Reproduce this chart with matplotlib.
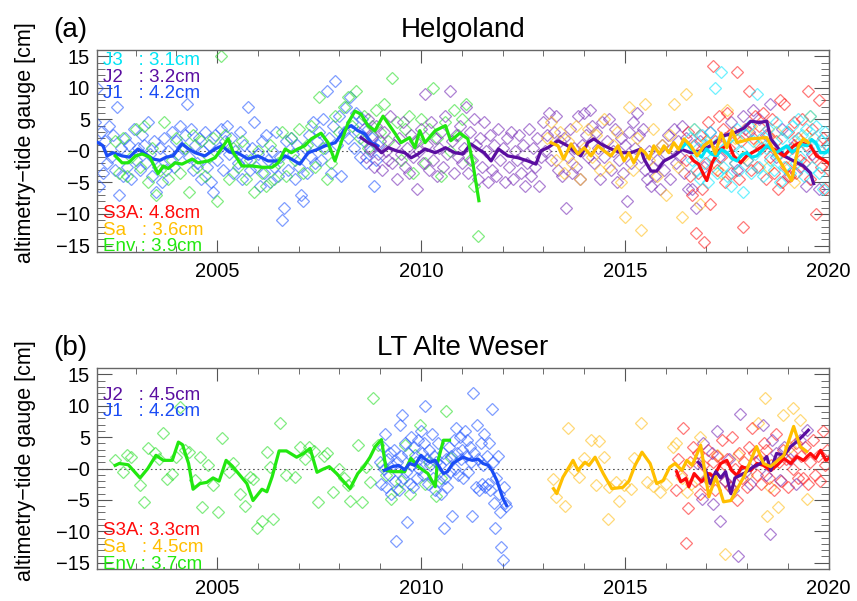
import numpy as np
import matplotlib
matplotlib.use("Agg")
import matplotlib.pyplot as plt

plt.rcParams['font.family'] = ['Liberation Sans', 'DejaVu Sans']

# ---------------- panel (a) Helgoland ----------------
# scatter series: start year, step (years), values [cm]
j1a_start, j1a_step = 2002.0, 0.05
j1a_vals = [4.5, 10.0, -5.5, 3.0, -3.5, 1.5, -2.0, 4.0, -1.0, 2.5, -3.0, 7.0, -7.0, 0.5, -4.0, 2.0,
            -2.5, 1.0, -4.5, 3.5, -1.5, 0.5, -3.0, 2.5, 1.0, -2.0, 4.5, -0.5, -4.0, 1.5, -6.5, -2.5,
            0.5, -5.0, 2.0, -3.0, 0.0, -1.5, 3.0, -2.5, 1.5, -0.5, 4.0, 0.5, 2.5, 7.5, -1.0, 3.5,
            -3.0, 1.0, -2.0, 2.0, -4.5, 0.0, 3.0, -2.5, 1.0, -5.0, -6.5, 2.5, -1.5, 0.5, 3.5, -3.0,
            1.5, 4.0, -0.5, 2.0, -3.5, 0.0, -2.0, 3.0, -4.5, 1.0, -1.5, 7.0, -3.0, 0.5, 4.5, -2.5,
            -0.5, -5.5, 1.5, -3.5, 2.5, -1.5, -5.0, 0.0, -2.5, 3.0, -4.0, -1.0, -11.0, -9.0, 1.5, -3.0,
            2.0, -0.5, -4.5, 1.0, -2.5, -7.0, -8.0, 0.5, -3.5, 2.5, -1.0, 4.5, -2.0, 1.5, 3.0, -1.5,
            5.0, 0.5, 9.5, 2.0, -3.5, 4.0, 11.0, 1.0, 5.5, -4.0, 3.0, 7.0, 2.0, 8.5, 4.5, 0.5,
            6.0, 3.0, -1.0, 5.0, 1.5, -2.0, 3.5, 0.0, 2.0, -5.5, -1.5, 1.0]

enva_start, enva_step = 2002.5, 0.1
enva_vals = [1.5, -3.5, 2.0, -4.0, -1.0, 3.5, -2.5, 4.0, -5.0, 0.5, -7.0, -3.0, 4.5, -4.5, -1.5, 2.0,
             -3.5, 0.5, -6.5, 2.5, -2.5, 1.5, -4.0, -1.0, 2.0, -8.0, 15.0, 2.5, -4.5, 0.5, -2.5, 1.5,
             -4.5, -1.5, -6.5, 0.0, -3.5, -5.5, 1.0, -4.5, -2.0, 3.0, -4.0, 2.0, -1.5, 3.5, -3.5, 1.0,
             4.0, -2.5, 8.5, 0.5, -4.5, -2.0, 5.5, 3.0, 7.0, 8.5, 4.0, 9.5, 2.0, 5.5, 0.5, 4.0,
             6.5, 3.0, 7.5, 1.5, 11.5, 4.5, -1.5, 3.5, 5.5, -3.5, 1.5, 5.0, -2.0, 3.5, 10.0, 2.0,
             -4.0, 4.5, 0.0, 6.5, 2.5, 5.0, 7.5, -1.5, -5.5, -13.5]

j2a_start, j2a_step = 2008.6, 0.05
j2a_vals = [3.5, -1.0, 5.0, 0.5, 2.5, -2.5, 4.0, -0.5, 1.5, -3.0, 3.0, 0.0, -1.5, 5.5, -2.0, 1.0,
            -4.5, 2.0, -0.5, 4.5, -2.5, 0.5, -3.5, 2.5, -1.0, 1.5, -6.0, 0.0, 3.5, -2.0, 9.0, 1.0,
            -3.0, 4.5, -1.5, 2.0, -4.0, 0.5, 3.0, -2.5, 5.5, -0.5, 9.5, 1.5, -3.5, 2.5, -1.0, 4.0,
            -2.0, 0.5, 7.0, -3.5, 3.0, -1.5, 5.0, 1.0, -4.5, 2.0, -2.5, 4.5, 0.0, -5.0, 2.5, -3.0,
            1.0, -4.0, 3.5, -1.5, 0.5, -5.0, 2.0, -2.5, 3.0, -4.5, 0.0, -1.5, 2.5, -3.5, 1.0, -5.5,
            -2.0, 3.5, -4.0, 0.5, -2.5, 2.0, -5.5, -1.0, 4.5, 0.0, 2.5, 6.0, -1.5, 3.0, 5.5, -3.0,
            1.5, -4.0, 2.0, -9.0, -1.0, 3.5, -3.5, 0.5, -2.5, 5.5, -4.5, 1.0, 6.0, 2.5, -1.0, 6.5,
            4.0, -2.0, 3.0, 0.5, -4.5, 4.5, -1.0, 1.5, 5.0, -3.0, 0.0, 3.5, -5.0, -1.5, 2.0, -3.5,
            1.0, -8.0, 3.0, -2.0, 4.5, 0.5, 6.0, 2.5, -1.0, 3.5, -3.0, -4.5, 0.0, -5.5, -2.5, -4.0,
            -1.5, -6.0, 1.0, -3.0, -0.5, 2.5, -4.5, 0.5, 3.5, -2.0, 1.5, -1.0, 4.0, -3.5, 2.0, -6.0]
j2a_late_t = [2016.65, 2016.75, 2016.85, 2016.95, 2017.1, 2017.3, 2017.45, 2017.6, 2017.75, 2017.9,
              2018.05, 2018.15, 2018.3, 2018.45, 2018.55, 2018.7, 2018.85, 2019.0, 2019.15, 2019.3,
              2019.45, 2019.6, 2019.75]
j2a_late_v = [-6.0, -9.0, 1.5, -2.5, 3.0, -1.0, 2.0, 4.5, -3.0, 5.5, 3.0, 6.5, 5.0, 2.5, 7.5, -1.0,
              3.5, -4.0, 1.0, -2.5, -5.5, -0.5, -6.0]

saa_start, saa_step = 2013.1, 0.1
saa_vals = [2.0, 4.5, -1.5, 3.0, -3.5, 1.5, -2.0, 4.0, -4.5, 0.5, 3.5, -1.0, 2.5, -3.0, 5.0, -2.5,
            1.0, 3.0, -5.0, -10.5, 7.0, -3.0, 2.0, -12.5, 7.5, -1.5, 3.5, -4.0, 1.0, -7.0, 2.5, 7.5,
            -2.5, -10.5, 9.0]
saa_late_t = [2016.7, 2016.85, 2017.0, 2017.2, 2017.35, 2017.5, 2017.7, 2017.9, 2018.1, 2018.3,
              2018.5, 2018.7, 2018.9, 2019.15, 2019.3, 2019.45, 2019.55]
saa_late_v = [3.5, -8.5, 1.5, -2.0, -3.5, 6.5, 2.0, -1.0, 4.0, 1.0, -2.5, 3.0, -1.5, -5.0, 1.5, 2.5, 5.5]

s3a_start, s3a_step = 2016.5, 0.05
s3a_vals = [-1.5, 3.0, -4.0, -7.0, 1.0, -13.0, -3.5, 2.5, -6.0, -14.5, -2.0, 4.5, -8.5, 13.5, 1.5, -3.0,
            5.5, -1.0, 3.5, -5.0, 6.0, 0.5, -3.5, 3.0, -2.0, 12.5, -4.5, 1.5, -12.0, 3.5, -1.5, 9.5,
            -3.0, 2.0, 5.5, -2.5, 4.0, 0.5, 6.0, -4.5, 2.5, -1.0, 5.0, -3.5, 1.5, -6.0, 8.0, -5.0,
            7.5, -2.5, 3.0, -4.0, 0.5, 4.5, -3.5, 2.0, -1.5, 5.0, -2.0, 1.0, 9.5, -4.5, 3.5, -1.0,
            -10.0, 8.0, -2.5, 2.0, -6.0, 1.0, -3.0]

j3a_start, j3a_step = 2016.6, 0.05
j3a_vals = [2.0, -1.5, 3.5, -3.0, 0.5, -4.5, 2.5, -2.0, 1.0, -5.0, 3.0, -1.0, 10.0, -3.5, 1.5, 12.5,
            -2.5, 0.5, -4.0, 2.0, -5.5, 1.0, -2.0, 3.5, -3.0, 0.0, -6.5, 2.5, -1.5, 4.0, -3.5, 1.5,
            -0.5, 9.0, -2.5, 2.0, -4.0, 0.5, 3.5, -1.5, 1.0, -3.0, 4.5, -0.5, -5.0, 2.0, -2.5, 3.0,
            0.0, -3.5, 4.0, 1.5, -2.0, 5.0, -1.0, 2.5, -4.0, 3.5, 0.5, 5.5, -2.5, 2.0, 4.0, -3.5,
            1.5, -6.0, 3.0, -1.0, 0.5]

# smoothed lines (year, cm)
j1a_line_t = [2002.0, 2002.08, 2002.2, 2002.3, 2002.45, 2002.67, 2002.85, 2003.06, 2003.25, 2003.43,
              2003.6, 2003.75, 2003.92, 2004.14, 2004.3, 2004.46, 2004.7, 2004.95, 2005.12, 2005.3,
              2005.5, 2005.76, 2006.0, 2006.25, 2006.5, 2006.67, 2006.82, 2007.03, 2007.23, 2007.45,
              2007.65, 2007.9, 2008.14, 2008.29, 2008.45, 2008.62, 2008.78, 2008.94]
j1a_line_v = [1.5, 1.3, 0.8, -0.8, -0.3, -0.8, -1.0, 0.3, -0.5, -1.3, -1.5, -1.0, -0.8, 1.1, 0.3, -0.3,
              -0.8, 0.3, 0.8, -0.2, -0.3, -1.3, -0.8, -1.6, -1.6, -0.8, -1.3, -2.1, -0.3, 0.2, 0.8, 1.3,
              3.5, 4.0, 3.2, 2.7, 1.3, 0.8]

enva_line_t = [2002.5, 2002.67, 2002.82, 2003.0, 2003.16, 2003.35, 2003.55, 2003.68, 2003.8, 2003.97,
               2004.14, 2004.39, 2004.53, 2004.78, 2004.95, 2005.27, 2005.4, 2005.61, 2005.86, 2006.1,
               2006.35, 2006.5, 2006.67, 2006.82, 2006.98, 2007.15, 2007.31, 2007.55, 2007.72, 2007.89,
               2008.04, 2008.21, 2008.38, 2008.53, 2008.7, 2008.87, 2009.07, 2009.36, 2009.51, 2009.72,
               2009.85, 2009.97, 2010.1, 2010.35, 2010.6, 2010.73, 2010.95, 2011.15, 2011.27, 2011.42]
enva_line_v = [-0.8, -1.9, -1.9, -0.8, -0.5, -1.0, -3.6, -2.4, -2.8, -1.9, -2.1, -1.3, -1.9, -1.6, -1.1,
               1.9, -0.3, -2.4, -2.4, -2.6, -2.6, -1.9, 0.3, -0.3, 0.3, 0.8, 1.9, 2.8, 1.3, -1.6, 1.3,
               4.4, 6.3, 5.8, 4.0, 3.2, 5.5, 2.8, 1.3, 2.1, 0.5, 3.2, 1.3, 3.2, 4.0, 1.6, 2.8, 1.9, -1.9,
               -7.9]

j2a_line_t = [2008.53, 2008.7, 2008.87, 2009.03, 2009.2, 2009.4, 2009.6, 2009.76, 2009.93, 2010.1,
              2010.35, 2010.6, 2010.83, 2011.03, 2011.22, 2011.4, 2011.55, 2011.72, 2011.9, 2012.13,
              2012.38, 2012.62, 2012.82, 2012.94, 2013.11, 2013.36, 2013.6, 2013.75, 2013.92, 2014.09,
              2014.24, 2014.41, 2014.66, 2014.9, 2015.15, 2015.39, 2015.47, 2015.64, 2015.78, 2015.96,
              2016.2, 2016.4, 2016.62, 2016.85, 2017.1, 2017.43, 2017.67, 2017.92, 2018.09, 2018.3,
              2018.48, 2018.58, 2018.75, 2018.9, 2019.14, 2019.38, 2019.55, 2019.63]
j2a_line_v = [2.1, 1.3, 0.8, -0.3, 0.5, 0.0, -0.3, -1.1, -0.5, 0.3, -0.3, 0.5, -0.3, -0.5, 1.1, 0.3,
              -0.3, -1.6, 0.3, -0.8, -1.1, -1.6, -2.1, 0.0, 0.5, 1.6, 0.8, 0.0, -0.8, 1.3, 1.9, 1.1, 0.3,
              -0.3, -0.3, 0.3, -1.3, -3.2, -3.2, -1.6, -0.8, 0.2, -0.3, 0.0, 0.8, 2.4, 2.8, 3.6, 4.7,
              4.5, 4.7, 1.9, 0.5, -0.8, -1.6, -2.4, -3.5, -5.2]

saa_line_t = [2013.19, 2013.36, 2013.5, 2013.68, 2013.85, 2014.0, 2014.17, 2014.34, 2014.49, 2014.66,
              2014.83, 2014.98, 2015.1, 2015.22, 2015.39, 2015.5, 2015.6, 2015.71, 2015.85, 2015.96,
              2016.08, 2016.2, 2016.32, 2016.45, 2016.62, 2016.77, 2016.94, 2017.1, 2017.22, 2017.36,
              2017.5, 2017.63, 2017.75, 2018.09, 2018.48, 2018.72, 2019.09, 2019.26, 2019.38, 2019.5]
saa_line_v = [1.3, 0.8, -1.3, 1.1, -0.5, 0.5, -0.8, 0.8, 0.0, -0.8, 0.8, -1.6, -0.3, -1.9, 0.3, -0.3,
              -1.3, 0.8, -0.5, 0.8, -0.3, 1.3, 0.2, 1.9, 0.8, -0.8, 0.8, 1.6, -0.5, 2.8, 0.5, 3.2, 1.3,
              1.9, 2.1, -0.8, -4.7, 0.8, 1.9, 1.3]

s3a_line_t = [2016.62, 2016.69, 2016.81, 2016.94, 2017.01, 2017.14, 2017.3, 2017.48, 2017.55, 2017.67,
              2017.84, 2017.99, 2018.2, 2018.4, 2018.65, 2018.9, 2019.14, 2019.3, 2019.55, 2019.7,
              2019.92, 2020.0]
s3a_line_v = [-1.0, -1.6, -2.1, -3.9, -4.7, -1.9, 0.0, 0.8, 1.1, -0.8, -1.9, -0.8, 0.0, 0.8, 0.3, -0.8,
              0.8, 1.3, 0.8, -0.8, -1.6, -2.0]

j3a_line_t = [2016.4, 2016.52, 2016.64, 2016.76, 2016.88, 2017.0, 2017.12, 2017.25, 2017.37, 2017.5,
              2017.62, 2017.75, 2017.87, 2017.99, 2018.11, 2018.24, 2018.36, 2018.48, 2018.6, 2018.72,
              2018.85, 2018.97, 2019.1, 2019.22, 2019.35, 2019.47, 2019.58, 2019.68, 2019.8, 2019.93,
              2020.0]
j3a_line_v = [0.5, 1.3, 0.2, -0.3, -1.0, 0.3, -0.5, -0.8, 0.2, -0.3, -1.2, -1.6, -0.6, -0.3, -1.0, -0.8,
              0.0, 0.8, 0.2, -0.3, 0.3, 0.8, -0.2, 0.3, 1.0, 0.8, 1.8, 1.3, -0.3, -0.3, 0.2]

# ---------------- panel (b) LT Alte Weser ----------------
envb_t = [2002.5, 2002.7, 2002.8, 2002.9, 2003.1, 2003.2, 2003.3, 2003.48, 2003.58, 2003.68, 2003.77,
          2003.9, 2004.0, 2004.08, 2004.2, 2004.3, 2004.45, 2004.58, 2004.63, 2004.78, 2004.9, 2005.03,
          2005.12, 2005.28, 2005.4, 2005.56, 2005.69, 2005.8, 2005.88, 2005.98, 2006.1, 2006.22,
          2006.3, 2006.37, 2006.55, 2006.7, 2006.9, 2007.03, 2007.15, 2007.25, 2007.38, 2007.48,
          2007.62, 2007.7, 2007.85, 2008.0, 2008.1, 2008.2, 2008.26, 2008.46, 2008.55, 2008.65,
          2008.75, 2008.83, 2008.95, 2009.05, 2009.15, 2009.26, 2009.4, 2009.5, 2009.6, 2009.72,
          2009.85, 2009.97, 2010.1, 2010.2, 2010.37, 2010.5, 2010.62, 2010.73]
envb_v = [1.3, -0.6, 2.2, 1.8, -2.7, -5.4, 3.2, 2.4, 1.5, 5.7, -1.6, -0.8, 1.8, 9.8, 3.0, 2.6, -1.8, 1.8,
          -6.2, 0.5, -2.7, -7.0, 4.8, -0.5, 0.8, -4.0, -5.9, -1.4, -1.6, -9.4, -8.3, 2.6, 0.3, -8.0, 7.3,
          -1.1, -1.4, 3.4, 1.5, 3.4, 2.8, -5.4, 2.0, 2.4, -3.8, 0.0, -1.5, -2.7, -5.1, 3.7, -5.4, 0.2,
          -2.2, 11.2, 3.7, 0.5, -1.0, -4.8, -3.2, -2.0, 3.7, -4.0, 2.1, 6.9, -2.5, 1.0, -4.3, -1.5,
          9.2, 1.6]

j1b_start, j1b_step = 2009.0, 0.03
j1b_vals = [1.0, -2.5, 3.5, 0.0, 5.5, -3.0, 1.5, -1.0, 2.5, -4.0, 0.5, 3.0, -2.0, -11.5, 1.0, -3.5,
            7.0, 2.0, 8.5, -1.5, 4.0, -0.5, -8.5, 2.5, -2.5, 5.0, 0.5, -3.0, 3.5, 1.0, -1.5, 4.5,
            0.0, 6.0, 2.5, -1.0, 4.0, 10.0, 1.5, -2.5, 3.0, 0.5, 5.5, -1.5, 2.0, -3.5, 1.0, 4.0,
            -2.0, 0.5, -4.0, 2.5, -9.5, -1.5, 1.5, -3.0, 3.5, -0.5, 2.0, -7.5, 4.5, 0.0, 6.5, 2.5,
            -1.0, 5.0, 1.5, 3.0, -1.5, 6.0, 2.0, 4.5, -0.5, 3.5, 1.0, -7.5, 12.0, 2.5, -3.0, 7.0,
            1.5, -3.5, 4.0, -2.5, 0.5, 5.5, -3.0, 2.0, -2.5, 4.0, -3.5, 9.5, 1.0, -5.5, -9.5, -1.5,
            2.0, -4.0, -7.0, -12.5, -14.5, -3.0, -5.5, -6.0]

sab_t = [2013.24, 2013.3, 2013.53, 2013.6, 2013.75, 2013.87, 2014.0, 2014.17, 2014.29, 2014.36, 2014.49,
         2014.58, 2014.62, 2014.78, 2014.85, 2014.98, 2015.15, 2015.22, 2015.39, 2015.55, 2015.7,
         2015.85, 2016.0, 2016.18, 2016.25, 2016.4, 2016.52, 2016.62, 2016.84, 2017.0, 2017.25,
         2017.45, 2017.6, 2017.77, 2018.0, 2018.26, 2018.44, 2018.48, 2018.55, 2018.75, 2018.87,
         2019.05, 2019.12, 2019.29, 2019.46]
sab_v = [-1.6, -4.5, -5.9, 6.4, -0.3, -1.3, 1.6, 4.5, -2.7, 4.3, 1.9, -8.0, -2.9, -2.1, -5.1, -2.7, -3.2,
         1.6, 7.2, -2.2, -2.8, -3.8, -2.5, 3.4, 4.0, -1.5, -3.8, -2.5, 5.0, -1.5, 2.1, -13.6, -3.0, 2.1,
         -1.0, 7.2, 11.2, -7.5, -3.0, -6.2, 8.5, 3.5, 9.7, 7.7, -4.8]

s3b_start, s3b_step = 2016.25, 0.06
s3b_vals = [-3.5, 1.5, -1.0, 6.5, -11.8, -6.3, 1.0, 3.5, -2.0, 2.5, -4.0, 0.5, -2.5, 3.0, -1.5, 1.0,
            -3.5, 2.0, -0.5, 4.5, -2.0, 1.5, -3.0, 5.0, 0.0, -5.0, 2.5, -1.5, 1.0, -3.0, 3.5, 6.5,
            2.5, -1.0, 1.5, -2.5, 4.0, 3.0, -1.5, 0.5, -3.5, 5.5, 1.0, -2.0, 3.0, 1.5, -3.0, 2.5,
            0.0, 4.0, -1.5, 2.0, -1.5, 3.5, -2.5, 1.0, 4.5, -1.0, 2.0, -2.0, 6.0, 0.5, 3.0]

j2b_t = [2016.76, 2016.89, 2016.91, 2017.02, 2017.13, 2017.15, 2017.25, 2017.33, 2017.45, 2017.55,
         2017.65, 2017.77, 2017.82, 2017.95, 2018.06, 2018.2, 2018.38, 2018.45, 2018.55, 2018.6,
         2018.7, 2018.8, 2018.9, 2019.05, 2019.2, 2019.3, 2019.46]
j2b_v = [0.8, -4.8, 4.0, -1.5, 2.4, -5.6, 6.0, -8.3, -2.0, 1.5, -3.5, -13.9, 8.7, -0.5, -2.4, 1.0, 6.9,
         -1.0, -10.4, 4.5, 2.5, -1.9, 3.5, 1.5, -2.5, 4.5, 6.1]

envb_line_t = [2002.5, 2002.6, 2002.82, 2003.11, 2003.3, 2003.5, 2003.68, 2003.9, 2004.05, 2004.15,
               2004.3, 2004.41, 2004.58, 2004.75, 2004.9, 2005.05, 2005.22, 2005.37, 2005.73, 2005.88,
               2006.1, 2006.22, 2006.35, 2006.52, 2006.7, 2006.95, 2007.12, 2007.28, 2007.45, 2007.6,
               2007.75, 2007.93, 2008.26, 2008.45, 2008.6, 2008.75, 2008.88, 2009.03, 2009.15, 2009.3,
               2009.6, 2009.75, 2009.93, 2010.17, 2010.35, 2010.4, 2010.55, 2010.7]
envb_line_v = [0.5, 0.8, 0.6, -1.5, 0.0, 2.1, 1.3, 1.3, 4.2, 3.8, 0.8, -3.3, -2.4, -2.2, -1.5, -2.0, 1.3,
               0.4, -2.4, -5.1, -3.3, -3.7, -1.3, 2.8, 2.8, 1.8, 2.4, 3.2, -0.6, -0.1, 0.3, -0.8, -3.2,
               -0.8, 0.3, 1.8, 3.5, 4.6, -0.3, -0.5, -0.5, 1.6, 0.3, -0.8, -2.9, 0.8, 4.5, 4.5]

j1b_line_t = [2009.1, 2009.3, 2009.45, 2009.6, 2009.72, 2009.85, 2010.0, 2010.1, 2010.22, 2010.35,
              2010.55, 2010.65, 2010.78, 2010.9, 2011.03, 2011.15, 2011.26, 2011.4, 2011.52, 2011.65,
              2011.74, 2011.86, 2012.0, 2012.1]
j1b_line_v = [-0.3, 0.3, 0.5, -0.2, 0.8, 0.5, 2.1, 1.5, 1.0, 1.3, -0.8, -0.5, 0.8, 1.3, 1.8, 1.5, 1.3, 1.5,
              0.8, 0.5, -0.3, -1.9, -4.6, -5.9]

sab_line_t = [2013.25, 2013.33, 2013.48, 2013.73, 2013.85, 2014.02, 2014.12, 2014.27, 2014.47, 2014.68,
              2014.95, 2015.1, 2015.25, 2015.42, 2015.62, 2015.78, 2015.94, 2016.1, 2016.23, 2016.4,
              2016.52, 2016.65, 2016.86, 2017.06, 2017.23, 2017.42, 2017.6, 2017.92, 2018.23, 2018.4,
              2018.57, 2018.9, 2019.14, 2019.3, 2019.46]
sab_line_v = [-3.2, -4.0, -1.4, 1.3, -0.3, 1.0, 0.5, 1.8, -0.8, -3.2, -3.0, -2.0, 0.5, 2.6, 0.8, -2.4,
              -1.9, 0.2, 0.8, -0.3, 1.3, 0.5, 3.7, -4.5, -1.3, -5.3, -5.1, -1.3, 3.5, 0.8, 0.3, 2.1, 6.7,
              3.5, 2.7]

s3b_line_t = [2016.27, 2016.37, 2016.5, 2016.57, 2016.7, 2016.88, 2017.06, 2017.18, 2017.35, 2017.5,
              2017.62, 2017.75, 2017.87, 2018.09, 2018.24, 2018.4, 2018.57, 2018.73, 2018.9, 2019.07,
              2019.22, 2019.38, 2019.55, 2019.68, 2019.8, 2019.93, 2020.0]
s3b_line_v = [-0.5, -2.1, -1.6, -2.9, -0.8, -2.1, -0.8, -1.3, 0.8, 1.3, -0.3, -1.1, 0.3, -0.3, 0.8, 0.5,
              -0.3, 0.5, 1.6, 0.8, 1.9, 1.3, 2.4, 1.6, 2.9, 1.3, 1.6]

j2b_line_t = [2016.8, 2016.98, 2017.1, 2017.23, 2017.35, 2017.47, 2017.6, 2017.7, 2017.92, 2018.16,
              2018.33, 2018.48, 2018.58, 2018.72, 2018.9, 2019.07, 2019.22, 2019.38, 2019.5]
j2b_line_v = [1.0, -0.3, -2.4, -0.5, -1.5, -0.5, -4.0, -1.5, -0.8, 0.3, 0.8, 1.9, -0.3, 2.4, 2.1, 3.5,
              4.3, 5.3, 6.1]

ytick_vals = [15, 10, 5, 0, -5, -10, -15]
ytick_labels = ['15', '10', '5', '\u22120', '\u22125', '\u221210', '\u221215']
xtick_vals = [2005, 2010, 2015, 2020]

C_J1, C_J2, C_J3 = '#1a4cf5', '#5a0ea0', '#00e4f5'
C_ENV, C_SA, C_S3 = '#22e810', '#ffbf00', '#ff0a0a'
SC = {'J1': '#2a5cff', 'J2': '#7a30b8', 'J3': '#10e8ff', 'Env': '#30e030', 'Sa': '#ffc020', 'S3A': '#ff2020'}


def grid(start, step, vals):
    return start + step * np.arange(len(vals))


def dots(ax, t, v, c):
    ax.plot(t, v, 'D', mfc='none', mec=c, ms=6.3, mew=0.9, alpha=0.6, zorder=2)


def line(ax, t, v, c, z=4):
    ax.plot(t, v, '-', color=c, lw=2.3, zorder=z, solid_joinstyle='round')


def style(ax, title, tag):
    ax.set_xlim(2002.05, 2020.0)
    ax.set_ylim(-16, 16)
    ax.axhline(0, color='#555555', lw=0.8, ls=(0, (1.5, 2.5)), zorder=1)
    ax.set_yticks(ytick_vals)
    ax.set_yticklabels(ytick_labels)
    ax.set_yticks(np.arange(-16, 17, 1), minor=True)
    ax.set_xticks(xtick_vals)
    ax.set_xticks(np.arange(2003, 2020, 1), minor=True)
    ax.tick_params(which='both', direction='in', top=True, right=True, labelsize=14.5,
                   color='#555555')
    ax.tick_params(axis='x', which='major', length=9, pad=7)
    ax.tick_params(axis='x', which='minor', length=4.5)
    ax.tick_params(axis='y', which='major', length=11, pad=5)
    ax.tick_params(axis='y', which='minor', length=5.5)
    for s in ax.spines.values():
        s.set_color('#666666')
        s.set_linewidth(1.0)
    ax.set_ylabel('altimetry\u2212tide gauge [cm]', fontsize=15.5)
    ax.yaxis.set_label_coords(-0.083, 0.54)
    ax.text(0.5, 1.065, title, transform=ax.transAxes, ha='center', va='baseline', fontsize=20)
    ax.text(-0.06, 1.065, tag, transform=ax.transAxes, ha='left', va='baseline', fontsize=20)


def label(ax, y, s, c):
    ax.text(0.008, y, s, transform=ax.transAxes, ha='left', va='baseline', fontsize=13.5,
            color=c, zorder=6, clip_on=True)


fig = plt.figure(figsize=(8.57, 6.01), dpi=100)
ax_a = fig.add_axes([0.113, 0.581, 0.854, 0.336])
ax_b = fig.add_axes([0.113, 0.0532, 0.854, 0.3345])

# panel (a)
dots(ax_a, grid(j1a_start, j1a_step, j1a_vals), j1a_vals, SC['J1'])
dots(ax_a, grid(enva_start, enva_step, enva_vals), enva_vals, SC['Env'])
dots(ax_a, grid(j2a_start, j2a_step, j2a_vals), j2a_vals, SC['J2'])
dots(ax_a, j2a_late_t, j2a_late_v, SC['J2'])
dots(ax_a, grid(saa_start, saa_step, saa_vals), saa_vals, SC['Sa'])
dots(ax_a, saa_late_t, saa_late_v, SC['Sa'])
dots(ax_a, grid(s3a_start, s3a_step, s3a_vals), s3a_vals, SC['S3A'])
dots(ax_a, grid(j3a_start, j3a_step, j3a_vals), j3a_vals, SC['J3'])
line(ax_a, j1a_line_t, j1a_line_v, C_J1)
line(ax_a, j2a_line_t, j2a_line_v, C_J2)
line(ax_a, s3a_line_t, s3a_line_v, C_S3)
line(ax_a, j3a_line_t, j3a_line_v, C_J3)
line(ax_a, enva_line_t, enva_line_v, C_ENV, 5)
line(ax_a, saa_line_t, saa_line_v, C_SA, 5)
style(ax_a, 'Helgoland', '(a)')
label(ax_a, 0.926, 'J3   : 3.1cm', C_J3)
label(ax_a, 0.842, 'J2   : 3.2cm', C_J2)
label(ax_a, 0.762, 'J1   : 4.2cm', C_J1)
label(ax_a, 0.168, 'S3A: 4.8cm', C_S3)
label(ax_a, 0.084, 'Sa   : 3.6cm', C_SA)
label(ax_a, 0.002, 'Env : 3.9cm', C_ENV)

# panel (b)
dots(ax_b, envb_t, envb_v, SC['Env'])
dots(ax_b, grid(j1b_start, j1b_step, j1b_vals), j1b_vals, SC['J1'])
dots(ax_b, sab_t, sab_v, SC['Sa'])
dots(ax_b, grid(s3b_start, s3b_step, s3b_vals), s3b_vals, SC['S3A'])
dots(ax_b, j2b_t, j2b_v, SC['J2'])
line(ax_b, envb_line_t, envb_line_v, C_ENV)
line(ax_b, j1b_line_t, j1b_line_v, C_J1)
line(ax_b, s3b_line_t, s3b_line_v, C_S3)
line(ax_b, j2b_line_t, j2b_line_v, C_J2)
line(ax_b, sab_line_t, sab_line_v, C_SA, 5)
style(ax_b, 'LT Alte Weser', '(b)')
label(ax_b, 0.841, 'J2   : 4.5cm', C_J2)
label(ax_b, 0.761, 'J1   : 4.2cm', C_J1)
label(ax_b, 0.169, 'S3A: 3.3cm', C_S3)
label(ax_b, 0.085, 'Sa   : 4.5cm', C_SA)
label(ax_b, 0.002, 'Env : 3.7cm', C_ENV)

fig.savefig('out.png', dpi=100)
